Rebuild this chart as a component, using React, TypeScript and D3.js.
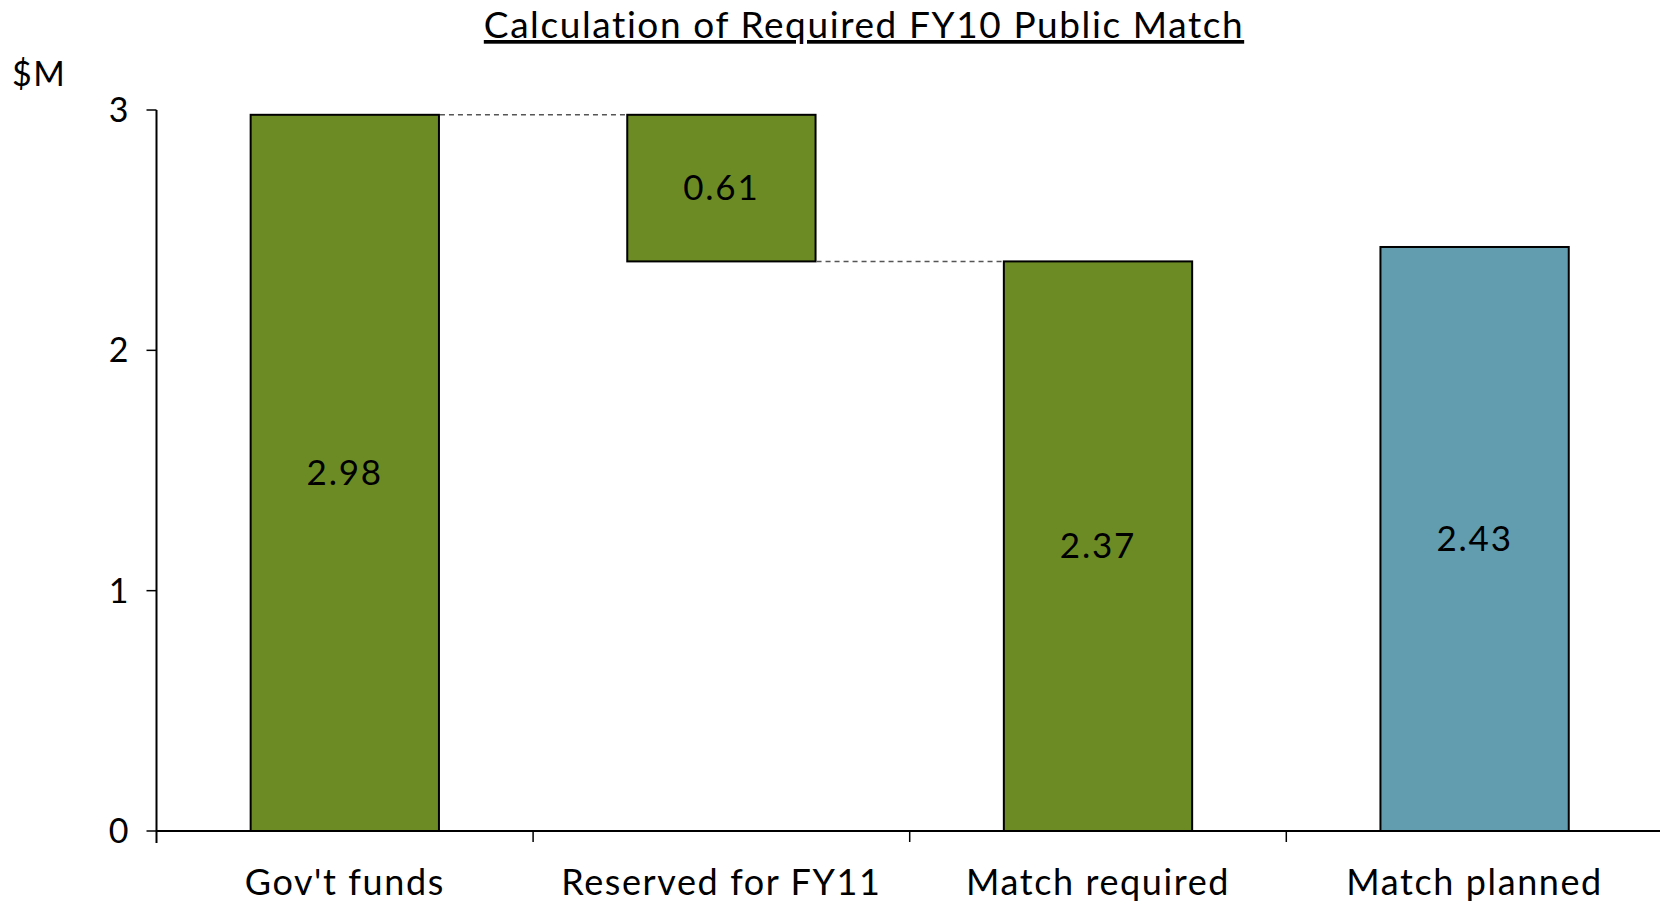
import { useEffect, useRef } from 'react';
import * as d3 from 'd3';

// ── Data ──
const CATEGORIES = ["Gov't funds", 'Reserved for FY11', 'Match required', 'Match planned'];
const BAR_BASE = [0, 2.37, 0, 0];
const BAR_TOP = [2.98, 2.98, 2.37, 2.43];
const BAR_LABELS = ['2.98', '0.61', '2.37', '2.43'];
const BAR_KIND = ['green', 'green', 'green', 'blue'];
const Y_TICKS = [0, 1, 2, 3];

const COLORS: Record<string, string> = {
  green: '#6d8b25',
  blue: '#629daf',
};

const W = 1660;
const H = 904;
const FONT = 'Lato, "Open Sans", sans-serif';
const STEP = 376.6;

export default function App() {
  const svgRef = useRef<SVGSVGElement>(null);

  useEffect(() => {
    const svgEl = svgRef.current;
    if (!svgEl) return;
    const svg = d3.select(svgEl);
    svg.selectAll('*').remove();

    const left = 156.5;
    const x = d3
      .scaleBand<string>()
      .domain(CATEGORIES)
      .range([left, left + 4 * STEP])
      .paddingInner(0.5)
      .paddingOuter(0.25);
    const y = d3.scaleLinear().domain([0, 3]).range([831, 110]);

    // title
    svg
      .append('text')
      .attr('x', 864)
      .attr('y', 38)
      .attr('text-anchor', 'middle')
      .attr('font-family', FONT)
      .attr('font-size', 37)
      .attr('letter-spacing', 1.6)
      .attr('text-decoration', 'underline')
      .attr('fill', '#000')
      .text('Calculation of Required FY10 Public Match');

    svg
      .append('text')
      .attr('x', 12)
      .attr('y', 86)
      .attr('font-family', FONT)
      .attr('font-size', 34)
      .attr('letter-spacing', 1.5)
      .attr('fill', '#000')
      .text('$M');

    // bars
    const idx = d3.range(CATEGORIES.length);
    svg
      .selectAll('rect.bar')
      .data(idx)
      .enter()
      .append('rect')
      .attr('class', 'bar')
      .attr('x', (i) => x(CATEGORIES[i])!)
      .attr('y', (i) => y(BAR_TOP[i]))
      .attr('width', x.bandwidth())
      .attr('height', (i) => y(BAR_BASE[i]) - y(BAR_TOP[i]))
      .attr('fill', (i) => COLORS[BAR_KIND[i]])
      .attr('stroke', '#000')
      .attr('stroke-width', 2);

    // connectors
    const conn = [
      { from: 0, to: 1, v: BAR_TOP[0] },
      { from: 1, to: 2, v: BAR_BASE[1] },
    ];
    svg
      .selectAll('line.conn')
      .data(conn)
      .enter()
      .append('line')
      .attr('x1', (d) => x(CATEGORIES[d.from])! + x.bandwidth() + 1)
      .attr('x2', (d) => x(CATEGORIES[d.to])! - 1)
      .attr('y1', (d) => y(d.v))
      .attr('y2', (d) => y(d.v))
      .attr('stroke', '#555')
      .attr('stroke-width', 1.5)
      .attr('stroke-dasharray', '5,4');

    // value labels
    svg
      .selectAll('text.val')
      .data(idx)
      .enter()
      .append('text')
      .attr('x', (i) => x(CATEGORIES[i])! + x.bandwidth() / 2)
      .attr('y', (i) => y((BAR_BASE[i] + BAR_TOP[i]) / 2))
      .attr('dy', '0.35em')
      .attr('text-anchor', 'middle')
      .attr('font-family', FONT)
      .attr('font-size', 35)
      .attr('letter-spacing', 1.8)
      .attr('fill', '#000')
      .text((i) => BAR_LABELS[i]);

    // y axis
    const ya = svg.append('g').attr('transform', `translate(${left},0)`);
    ya.append('line').attr('y1', y(0) + 12).attr('y2', y(3)).attr('stroke', '#000').attr('stroke-width', 2);
    ya.selectAll('line.t')
      .data(Y_TICKS)
      .enter()
      .append('line')
      .attr('x1', -10)
      .attr('x2', 0)
      .attr('y1', (d) => y(d))
      .attr('y2', (d) => y(d))
      .attr('stroke', '#000')
      .attr('stroke-width', 1.5);
    ya.selectAll('text')
      .data(Y_TICKS)
      .enter()
      .append('text')
      .attr('x', -38)
      .attr('y', (d) => y(d))
      .attr('dy', '0.35em')
      .attr('text-anchor', 'middle')
      .attr('font-family', FONT)
      .attr('font-size', 34)
      .attr('fill', '#000')
      .text((d) => d);

    // x axis
    const xa = svg.append('g');
    xa.append('line')
      .attr('x1', left)
      .attr('x2', W)
      .attr('y1', y(0))
      .attr('y2', y(0))
      .attr('stroke', '#000')
      .attr('stroke-width', 2);
    const bounds = CATEGORIES.map((_, i) => left + i * STEP);
    xa.selectAll('line.t')
      .data(bounds.slice(1))
      .enter()
      .append('line')
      .attr('x1', (d) => d)
      .attr('x2', (d) => d)
      .attr('y1', y(0))
      .attr('y2', y(0) + 11)
      .attr('stroke', '#000')
      .attr('stroke-width', 1.5);
    xa.selectAll('text')
      .data(CATEGORIES)
      .enter()
      .append('text')
      .attr('x', (d) => x(d)! + x.bandwidth() / 2)
      .attr('y', 882)
      .attr('dy', '0.35em')
      .attr('text-anchor', 'middle')
      .attr('font-family', FONT)
      .attr('font-size', 36)
      .attr('letter-spacing', 1.6)
      .attr('fill', '#000')
      .text((d) => d);
  }, []);

  return (
    <svg
      ref={svgRef}
      width={W}
      height={H}
      style={{ position: 'absolute', left: 0, top: 0, display: 'block', background: '#fff' }}
    />
  );
}
